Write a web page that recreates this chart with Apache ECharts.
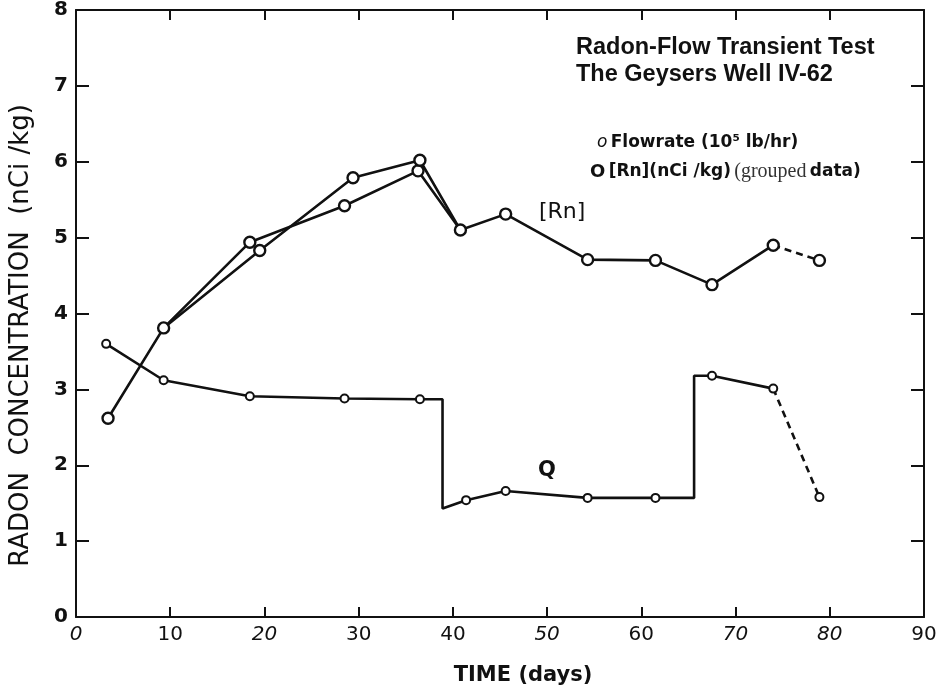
<!DOCTYPE html>
<html>
<head>
<meta charset="utf-8">
<script src="https://cdn.jsdelivr.net/npm/echarts@6/dist/echarts.min.js"></script>
<style>
html,body{margin:0;padding:0;background:#fff;}
#chart{width:943px;height:691px;}
</style>
</head>
<body>
<div id="chart"></div>
<script>
// [Rn] 分组数据, 两条曲线 (days, nCi/kg)
var rnDaysA = [3.4, 9.3, 18.45, 28.5, 36.3, 40.8, 45.6, 54.3, 61.5, 67.5, 74.0];
var rnValsA = [2.62, 3.81, 4.94, 5.42, 5.88, 5.10, 5.31, 4.71, 4.70, 4.38, 4.90];
var rnDaysB = [9.3, 19.5, 29.4, 36.5, 40.8];
var rnValsB = [3.81, 4.83, 5.79, 6.02, 5.10];
var rnDashDays = [74.0, 78.9];
var rnDashVals = [4.90, 4.70];

// Flowrate 测点 (10^5 lb/hr)
var flowDays = [3.2, 9.3, 18.45, 28.5, 36.5, 41.4, 45.6, 54.3, 61.5, 67.5, 74.0, 78.9];
var flowVals = [3.60, 3.12, 2.91, 2.88, 2.87, 1.54, 1.66, 1.57, 1.57, 3.18, 3.01, 1.58];
// Flowrate 连线 (含阶跃拐点)
var flowPathDays = [3.2, 9.3, 18.45, 28.5, 36.5, 38.9, 38.9, 41.4, 45.6, 54.3, 61.5, 65.6, 65.6, 67.5, 74.0];
var flowPathVals = [3.60, 3.12, 2.91, 2.88, 2.87, 2.87, 1.43, 1.54, 1.66, 1.57, 1.57, 1.57, 3.18, 3.18, 3.01];
var flowDashDays = [74.0, 78.9];
var flowDashVals = [3.01, 1.58];

// 刻度标签 (斜体的那些)
var xItalic = [0, 20, 50, 70, 80];

function pairs(xs, ys) {
	var out = [];
	for (var i = 0; i < xs.length; ++i) out.push([xs[i], ys[i]]);
	return out;
}

var ink = '#111';
var gothic = '"DejaVu Sans", sans-serif';

var rnMarks = pairs(rnDaysA, rnValsA)
	.concat(pairs(rnDaysB.slice(1, 4), rnValsB.slice(1, 4)))
	.concat([[rnDashDays[1], rnDashVals[1]]]);

function lineSerie(data, dashed) {
	return {
		type: 'line', data: data, showSymbol: false, symbol: 'none',
		xAxisIndex: 0, yAxisIndex: 0, z: 2, silent: true,
		lineStyle: {color: ink, width: 2.6, type: dashed ? [7, 5] : 'solid'}
	};
}
function markSerie(data, size, bw) {
	return {
		type: 'scatter', data: data, symbol: 'circle', symbolSize: size,
		xAxisIndex: 0, yAxisIndex: 0, z: 3, silent: true,
		itemStyle: {color: '#fff', borderColor: ink, borderWidth: bw, opacity: 1}
	};
}
// 上/右边框 (只有刻度, 无标签)
function frameAxis(pos, max, interval, tickLen) {
	return {
		type: 'value', position: pos, min: 0, max: max, interval: interval,
		axisLine: {show: true, onZero: false, lineStyle: {color: ink, width: 2}},
		axisTick: {show: true, inside: true, length: tickLen, lineStyle: {color: ink, width: 2}},
		axisLabel: {show: false}, splitLine: {show: false}
	};
}

var chart = echarts.init(document.getElementById('chart'), null, {renderer: 'canvas'});

var option = {
	backgroundColor: '#fff',
	animation: false,
	grid: {left: 75, right: 19, top: 7, bottom: 74},
	title: {
		text: 'Radon-Flow Transient Test\nThe Geysers Well IV-62',
		left: 571, top: 29,
		textStyle: {fontFamily: '"Liberation Sans", Arial, sans-serif', fontSize: 23.5, fontWeight: 'bold', color: ink, lineHeight: 27}
	},
	xAxis: [{
		type: 'value', min: 0, max: 90, interval: 10,
		name: 'TIME (days)', nameLocation: 'middle', nameGap: 48,
		nameTextStyle: {fontFamily: gothic, fontSize: 21, fontWeight: 'bold', color: ink, padding: [0, 0, 0, 46]},
		axisLine: {onZero: false, lineStyle: {color: ink, width: 2}},
		axisTick: {inside: true, length: 10, lineStyle: {color: ink, width: 2}},
		splitLine: {show: false},
		axisLabel: {
			margin: 8, color: ink, fontFamily: gothic, fontSize: 20,
			formatter: function (v) {
				return xItalic.indexOf(v) >= 0 ? '{i|' + v + '}' : '{u|' + v + '}';
			},
			rich: {
				i: {fontFamily: gothic, fontSize: 20, fontStyle: 'italic', color: ink},
				u: {fontFamily: gothic, fontSize: 20, color: ink}
			}
		}
	}, frameAxis('top', 90, 10, 10)],
	yAxis: [{
		type: 'value', min: 0, max: 8, interval: 1,
		name: 'RADON  CONCENTRATION  (nCi /kg)', nameLocation: 'middle', nameGap: 42, nameRotate: 90,
		nameTextStyle: {fontFamily: gothic, fontSize: 26, color: ink, padding: [0, 44, 0, 0]},
		axisLine: {onZero: false, lineStyle: {color: ink, width: 2}},
		axisTick: {inside: true, length: 13, lineStyle: {color: ink, width: 2}},
		splitLine: {show: false},
		axisLabel: {margin: 8, color: ink, fontFamily: gothic, fontSize: 20, fontWeight: 'bold'}
	}, frameAxis('right', 8, 1, 13)],
	graphic: [
		{type: 'text', left: 597, top: 134, style: {
			text: '{o|o} {t|Flowrate (10⁵ lb/hr)}',
			rich: {
				o: {fontFamily: gothic, fontSize: 17, fontStyle: 'italic', fill: ink},
				t: {fontFamily: gothic, fontSize: 17, fontWeight: 'bold', fill: ink}
			}
		}},
		{type: 'text', left: 590, top: 162, style: {
			text: '{o|O} {t|[Rn](nCi /kg)} {s|(grouped} {t|data)}',
			rich: {
				o: {fontFamily: gothic, fontSize: 18, fontWeight: 'bold', fill: ink},
				t: {fontFamily: gothic, fontSize: 17, fontWeight: 'bold', fill: ink},
				s: {fontFamily: '"Liberation Serif", serif', fontSize: 20, fill: '#333'}
			}
		}},
		{type: 'text', left: 539, top: 201, style: {text: '[Rn]', fontFamily: gothic, fontSize: 22, fill: ink}},
		{type: 'text', left: 538, top: 460, style: {text: 'Q', fontFamily: gothic, fontSize: 21, fontWeight: 'bold', fill: ink}}
	],
	series: [
		lineSerie(pairs(rnDaysA, rnValsA), false),
		lineSerie(pairs(rnDaysB, rnValsB), false),
		lineSerie(pairs(rnDashDays, rnDashVals), true),
		lineSerie(pairs(flowPathDays, flowPathVals), false),
		lineSerie(pairs(flowDashDays, flowDashVals), true),
		markSerie(rnMarks, 11, 2.4),
		markSerie(pairs(flowDays, flowVals), 8, 2)
	]
};
chart.setOption(option);
</script>
</body>
</html>
